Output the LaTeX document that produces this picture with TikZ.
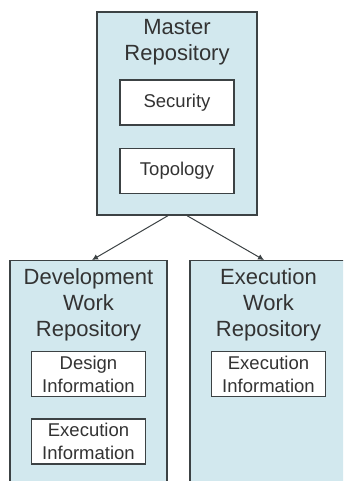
\documentclass[tikz,border=0pt]{standalone}
\usepackage{fontspec}
\setmainfont{Liberation Sans}
\usepackage{tikz}
\usetikzlibrary{positioning,arrows.meta}
\definecolor{repoFill}{RGB}{210,232,238}
\definecolor{lineGray}{RGB}{60,66,68}
\tikzset{
		repoStyle/.style  = {draw=lineGray,fill=repoFill,line width=1.3pt,inner sep=0pt,minimum width=157pt},
		infoStyle/.style  = {draw=lineGray,fill=white,line width=1.3pt,inner sep=0pt,align=center,
		                     minimum width=114pt,minimum height=45pt,text=black!80,
		                     font=\fontsize{18.5}{22.5}\selectfont},
		titleStyle/.style = {inner sep=0pt,align=center,text=black!80,font=\fontsize{22}{26}\selectfont},
		linkStyle/.style  = {draw=lineGray,line width=1pt,-{Latex[length=6pt,width=6pt]}}
}

\begin{document}
\begin{tikzpicture}[x=1pt,y=-1pt]
  \useasboundingbox (0,0) rectangle (343,481);
  \clip (0,0) rectangle (343,481);

  % Master repository with its two parts
  \node [repoStyle,minimum width=160pt,minimum height=203pt] (master) at (177,113.5) {};
  \node [titleStyle,below=8pt of master.north] (masterTitle) {Master\\Repository};
  \node [infoStyle,below=68pt of master.north] (security) {Security};
  \node [infoStyle,below=22pt of security] (topology) {Topology};

  % Work repositories, cut off at the lower edge
  \node [repoStyle,minimum height=260pt,anchor=north] (dev)  at (88.5,260)  {};
  \node [repoStyle,minimum height=260pt,anchor=north] (exec) at (268.5,260) {};
  \node [titleStyle,below=8pt of dev.north]  (devTitle)  {Development\\Work\\Repository};
  \node [titleStyle,below=8pt of exec.north] (execTitle) {Execution\\Work\\Repository};

  \node [infoStyle,below=91pt of dev.north] (design)  {Design\\Information};
  \node [infoStyle,below=21pt of design]    (devExec) {Execution\\Information};
  \node [infoStyle,below=91pt of exec.north] (execInfo) {Execution\\Information};

  % Links from master to work repositories
  \draw [linkStyle] ([xshift=-9pt]master.south) -- ([xshift=3.5pt]dev.north);
  \draw [linkStyle] ([xshift=10pt]master.south) -- ([xshift=-4.5pt]exec.north);

\end{tikzpicture}
\end{document}
